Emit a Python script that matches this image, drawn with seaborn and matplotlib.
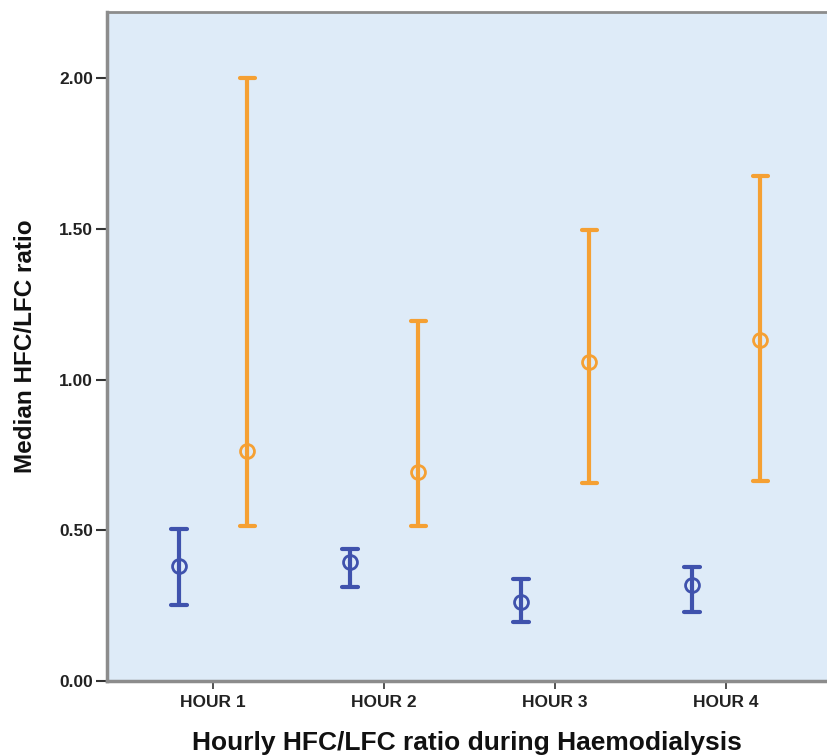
import numpy as np
import pandas as pd
import matplotlib
matplotlib.use("Agg")
import matplotlib.pyplot as plt
import seaborn as sns

# ---- data ----
hours = ["HOUR 1", "HOUR 2", "HOUR 3", "HOUR 4"]
groups = ["Group A", "Group B"]
# group A (blue)
a_median = [0.383, 0.396, 0.262, 0.318]
a_low = [0.251, 0.313, 0.197, 0.230]
a_high = [0.504, 0.437, 0.338, 0.379]
# group B (orange)
b_median = [0.764, 0.694, 1.057, 1.131]
b_low = [0.515, 0.515, 0.656, 0.664]
b_high = [2.000, 1.194, 1.496, 1.676]
yticks = [0.0, 0.5, 1.0, 1.5, 2.0]

rows = []
for g, med, lo, hi in [(groups[0], a_median, a_low, a_high),
                       (groups[1], b_median, b_low, b_high)]:
    for h, m, l, u in zip(hours, med, lo, hi):
        for v in (l, m, u):
            rows.append({"hour": h, "group": g, "value": v})
df = pd.DataFrame(rows)

sns.set_theme(style="white")
plt.rcParams["font.family"] = ["Liberation Sans", "DejaVu Sans"]

blue = "#3f52ad"
orange = "#f5a033"

fig = plt.figure(figsize=(8.27, 7.56), dpi=100)
ax = fig.add_axes([107 / 827, 75 / 756, 1 - 107 / 827, 669 / 756])
ax.set_facecolor("#deebf8")

sns.pointplot(
    data=df, x="hour", y="value", hue="group", order=hours, hue_order=groups,
    estimator=np.median, errorbar=lambda v: (np.min(v), np.max(v)),
    palette=[blue, orange], dodge=0.4, linestyle="none", markers="o",
    capsize=0.09, err_kws={"linewidth": 3.0}, markersize=10,
    markerfacecolor="none", markeredgewidth=2.0, legend=False, ax=ax,
)

ax.set_xlim(-0.62, 3.59)
ax.set_ylim(0, 2.22)
ax.set_yticks(yticks)
ax.set_yticklabels([f"{t:.2f}" for t in yticks])

for side in ["left", "bottom", "top"]:
    ax.spines[side].set_visible(True)
    ax.spines[side].set_color("#8c8c8c")
ax.spines["left"].set_linewidth(2.5)
ax.spines["bottom"].set_linewidth(2.5)
ax.spines["top"].set_linewidth(2.0)
ax.spines["right"].set_visible(False)

ax.tick_params(axis="y", which="major", length=8, width=1.5, color="#333333",
               labelsize=12.5, pad=2, left=True)
ax.tick_params(axis="x", which="major", length=6, width=1.2, color="#333333",
               labelsize=12.5, pad=4, bottom=True)
for lab in ax.get_xticklabels() + ax.get_yticklabels():
    lab.set_fontweight("bold")
    lab.set_color("#222222")

ax.set_xlabel("Hourly HFC/LFC ratio during Haemodialysis", fontsize=19,
              fontweight="bold", color="#111111", labelpad=15)
ax.set_ylabel("Median HFC/LFC ratio", fontsize=17.5, fontweight="bold",
              color="#111111", labelpad=16)

fig.savefig("out.png", dpi=100)
